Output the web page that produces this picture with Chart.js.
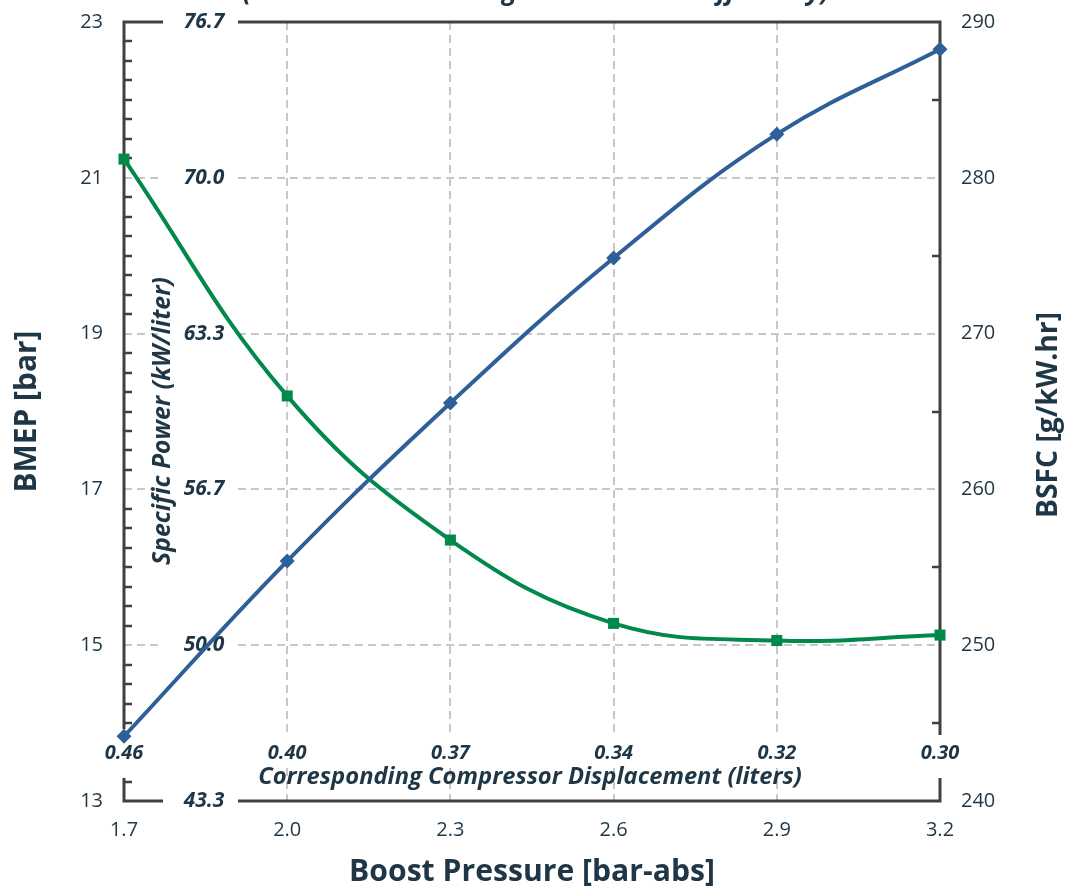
<!DOCTYPE html>
<html><head><meta charset="utf-8">
<script src="https://cdn.jsdelivr.net/npm/chart.js@4/dist/chart.umd.min.js"></script>
<style>html,body{margin:0;padding:0;background:#fff;overflow:hidden}#wrap{width:1069px;height:894px;position:relative}</style>
</head><body><div id="wrap"><canvas id="c" width="1069" height="894"></canvas></div>
<script>
const boostPressure = [1.7, 2.0, 2.3, 2.6, 2.9, 3.2];
const bmep = [13.83, 16.08, 18.11, 19.97, 21.56, 22.65];
const bsfc = [281.2, 266.0, 256.75, 251.4, 250.3, 250.65];
const displacementLabels = ['0.46', '0.40', '0.37', '0.34', '0.32', '0.30'];
const bmepTicks = [13, 15, 17, 19, 21, 23];
const specificPowerLabels = ['43.3', '50.0', '56.7', '63.3', '70.0', '76.7'];
const bsfcTicks = [240, 250, 260, 270, 280, 290];
const titleText = '(Constant Knock Margin \u2013 40% Turbo Efficiency)';
const topAxisTitle = 'Corresponding Compressor Displacement (liters)';
const innerAxisTitle = 'Specific Power (kW/liter)';
const leftAxisTitle = 'BMEP [bar]';
const bottomAxisTitle = 'Boost Pressure [bar-abs]';
const rightAxisTitle = 'BSFC [g/kW.hr]';

const TXT = '#1f3646';
const SPINE = '#404040';
const GRID = '#c8c8cc';
const FONT = "'Open Sans', 'DejaVu Sans', sans-serif";

const mctx = document.createElement('canvas').getContext('2d');
function fitSize(text, style, weight, width) {
  mctx.font = `${style} ${weight} 20px ${FONT}`;
  return 20 * width / mctx.measureText(text).width;
}
const leftTitleSize = fitSize(leftAxisTitle, 'normal', 700, 162);
const bottomTitleSize = fitSize(bottomAxisTitle, 'normal', 700, 366);
const rightTitleSize = fitSize(rightAxisTitle, 'normal', 700, 206);
const titleSize = fitSize(titleText, 'italic', 700, 587);
const innerTitleSize = fitSize(innerAxisTitle, 'italic', 700, 288);
const topTitleSize = fitSize(topAxisTitle, 'italic', 700, 544);

const overlay = {
  id: 'overlay',
  beforeDatasetsDraw(chart) {
    const ctx = chart.ctx;
    const xs = chart.scales.x, ys = chart.scales.y, y2 = chart.scales.y2;
    const {left, right, top, bottom} = chart.chartArea;
    const gapL = left + 39, gapR = left + 114;
    ctx.save();
    // grid
    ctx.strokeStyle = GRID; ctx.lineWidth = 2; ctx.setLineDash([8, 5]);
    bmepTicks.slice(1, -1).forEach(v => {
      const y = Math.round(ys.getPixelForValue(v));
      ctx.beginPath();
      ctx.moveTo(left, y); ctx.lineTo(gapL, y);
      ctx.moveTo(gapR, y); ctx.lineTo(right, y);
      ctx.stroke();
    });
    boostPressure.slice(1, -1).forEach(v => {
      const x = Math.round(xs.getPixelForValue(v));
      ctx.beginPath();
      ctx.moveTo(x, top); ctx.lineTo(x, 732);
      ctx.moveTo(x, 768); ctx.lineTo(x, bottom);
      ctx.stroke();
    });
    ctx.setLineDash([]);
    // spines
    ctx.strokeStyle = SPINE; ctx.lineWidth = 3; ctx.lineCap = 'butt';
    ctx.beginPath();
    ctx.moveTo(left - 1.5, top); ctx.lineTo(gapL, top);
    ctx.moveTo(gapR, top); ctx.lineTo(right + 1.5, top);
    ctx.moveTo(left - 1.5, bottom); ctx.lineTo(gapL, bottom);
    ctx.moveTo(gapR, bottom); ctx.lineTo(right + 1.5, bottom);
    ctx.moveTo(left, top); ctx.lineTo(left, 729);
    ctx.moveTo(left, 778); ctx.lineTo(left, bottom);
    ctx.moveTo(right, top); ctx.lineTo(right, 735);
    ctx.moveTo(right, 778); ctx.lineTo(right, bottom);
    ctx.stroke();
    // minor ticks
    ctx.lineWidth = 2.5;
    ctx.beginPath();
    for (let i = 0; i <= 40; i++) {
      if (i % 8 === 0) continue;
      const y = Math.round(ys.getPixelForValue(13 + i * 0.25));
      if (y > 729 && y < 778) continue;
      ctx.moveTo(left, y); ctx.lineTo(left + 8, y);
    }
    for (let i = 0; i < bsfcTicks.length - 1; i++) {
      const y = Math.round(y2.getPixelForValue((bsfcTicks[i] + bsfcTicks[i + 1]) / 2));
      if (y > 735 && y < 778) continue;
      ctx.moveTo(right - 8, y); ctx.lineTo(right, y);
    }
    ctx.stroke();
    // inner labels
    ctx.fillStyle = TXT;
    ctx.textAlign = 'center'; ctx.textBaseline = 'middle';
    ctx.font = `italic 700 21px ${FONT}`;
    specificPowerLabels.forEach((t, i) => {
      ctx.fillText(t, left + 80, ys.getPixelForValue(bmepTicks[i]));
    });
    ctx.font = `italic 700 20px ${FONT}`;
    displacementLabels.forEach((t, i) => {
      ctx.fillText(t, xs.getPixelForValue(boostPressure[i]), 753);
    });
    ctx.font = `italic 700 ${topTitleSize}px ${FONT}`;
    ctx.fillText(topAxisTitle, 530, 777);
    ctx.save();
    ctx.translate(163, 421); ctx.rotate(-Math.PI / 2);
    ctx.font = `italic 700 ${innerTitleSize}px ${FONT}`;
    ctx.fillText(innerAxisTitle, 0, 0);
    ctx.restore();
    // right title
    ctx.font = `700 ${rightTitleSize}px ${FONT}`;
    ctx.save();
    ctx.translate(1049, 415); ctx.rotate(-Math.PI / 2);
    ctx.fillText(rightAxisTitle, 0, 0);
    ctx.restore();
    // cut-off title
    ctx.font = `italic 700 ${titleSize}px ${FONT}`;
    ctx.textBaseline = 'alphabetic';
    ctx.fillText(titleText, 536, 0);
    ctx.restore();
  }
};

function noPadV(s, w) { s.width = w; s.paddingTop = 0; s.paddingBottom = 0; }

new Chart(document.getElementById('c'), {
  type: 'line',
  data: {
    datasets: [
      {
        label: 'BMEP',
        data: boostPressure.map((x, i) => ({x, y: bmep[i]})),
        yAxisID: 'y',
        borderColor: '#2f5f99', backgroundColor: '#2f5f99',
        borderWidth: 4, pointStyle: 'rectRot', pointRadius: 7.5, pointBorderWidth: 0,
        tension: 0.4, clip: false
      },
      {
        label: 'BSFC',
        data: boostPressure.map((x, i) => ({x, y: bsfc[i]})),
        yAxisID: 'y2',
        borderColor: '#00894b', backgroundColor: '#00894b',
        borderWidth: 4, pointStyle: 'rect', pointRadius: 7.8, pointBorderWidth: 0,
        tension: 0.4, clip: false
      }
    ]
  },
  options: {
    responsive: false, animation: false, devicePixelRatio: 1,
    layout: {padding: {top: 22, left: 0, right: 0, bottom: 0}},
    plugins: {legend: {display: false}, tooltip: {enabled: false}},
    scales: {
      x: {
        type: 'linear', position: 'bottom', min: 1.7, max: 3.2,
        afterBuildTicks: s => { s.ticks = boostPressure.map(v => ({value: v})); },
        afterFit: s => { s.height = 93; s.paddingLeft = 0; s.paddingRight = 0; },
        grid: {display: false, drawTicks: false}, border: {display: false},
        ticks: {padding: 17, color: TXT, font: {family: FONT, size: 20}, callback: v => Number(v).toFixed(1), maxRotation: 0},
        title: {display: true, text: bottomAxisTitle, color: TXT, font: {family: FONT, size: bottomTitleSize, weight: '700'}, padding: {top: 0, bottom: 3}}
      },
      y: {
        type: 'linear', position: 'left', min: 13, max: 23,
        afterBuildTicks: s => { s.ticks = bmepTicks.map(v => ({value: v})); },
        afterFit: s => noPadV(s, 124),
        grid: {display: false, drawTicks: false}, border: {display: false},
        ticks: {padding: 21, color: TXT, font: {family: FONT, size: 20}},
        title: {display: true, text: leftAxisTitle, color: TXT, font: {family: FONT, size: leftTitleSize, weight: '700'}, padding: {top: 10, bottom: 0}}
      },
      y2: {
        type: 'linear', position: 'right', min: 240, max: 290,
        afterBuildTicks: s => { s.ticks = bsfcTicks.map(v => ({value: v})); },
        afterFit: s => noPadV(s, 129),
        grid: {display: false, drawTicks: false}, border: {display: false},
        ticks: {padding: 21, color: TXT, font: {family: FONT, size: 20}}
      }
    }
  },
  plugins: [overlay]
});
</script></body></html>
